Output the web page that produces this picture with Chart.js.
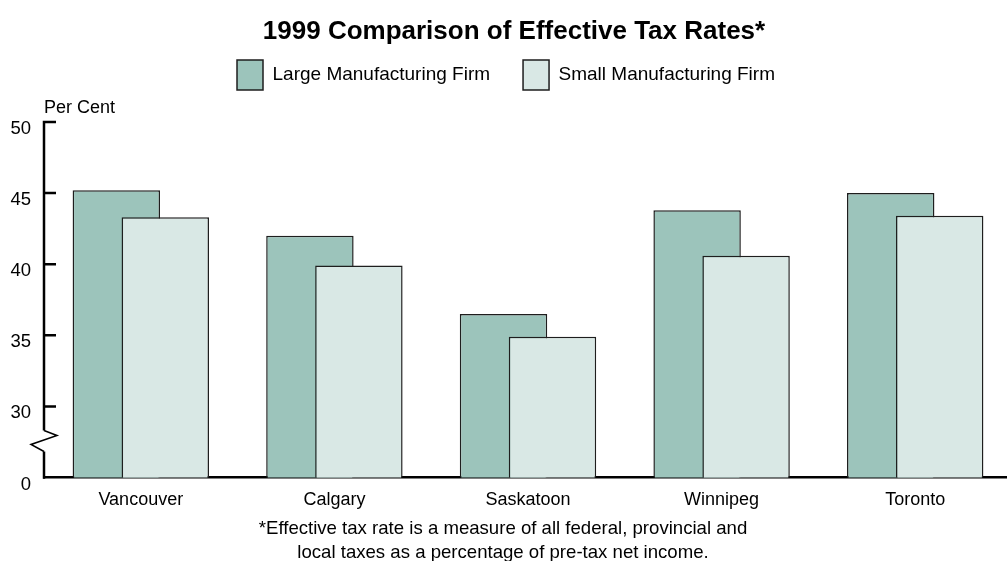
<!DOCTYPE html>
<html>
<head>
<meta charset="utf-8">
<script src="https://cdn.jsdelivr.net/npm/chart.js@4.4.1/dist/chart.umd.min.js"></script>
<style>
  html, body { margin: 0; padding: 0; background: #fff; overflow: hidden; }
  #wrap { width: 1012px; height: 561px; }
</style>
</head>
<body>
<div id="wrap"><canvas id="c" width="1012" height="561"></canvas></div>
<script>
// Effective tax rates by city, per cent
const cities = ['Vancouver', 'Calgary', 'Saskatoon', 'Winnipeg', 'Toronto'];
const largeFirm = [45.2, 42.0, 36.5, 43.8, 45.0];
const smallFirm = [43.3, 39.9, 34.9, 40.6, 43.4];
const seriesNames = ['Large Manufacturing Firm', 'Small Manufacturing Firm'];

// The value axis is broken: its baseline (25 on the scale) is labelled 0
const yTickValues = [25, 30, 35, 40, 45, 50];
const yTickLabels = ['0', '30', '35', '40', '45', '50'];

const footnoteLines = [
  '*Effective tax rate is a measure of all federal, provincial and',
  'local taxes as a percentage of pre-tax net income.'
];

const FONT = "'Liberation Sans', Arial, Helvetica, sans-serif";
Chart.defaults.font.family = FONT;
Chart.defaults.color = '#000';

// Nudge the heading slightly right of the canvas centre
const titleNudge = {
  id: 'titleNudge',
  afterLayout(chart) {
    const t = chart.titleBlock;
    if (t) { t.left += 8; t.right += 8; }
  }
};

// Draw the large-firm bars first so the small-firm bars overlap them
const barLayering = {
  id: 'barLayering',
  beforeDatasetsDraw(chart) {
    const { ctx, chartArea } = chart;
    ctx.save();
    ctx.beginPath();
    ctx.rect(chartArea.left, chartArea.top - 2, chartArea.right - chartArea.left, chartArea.bottom - chartArea.top + 2);
    ctx.clip();
    [0, 1].forEach(i => chart.getDatasetMeta(i).controller.draw());
    ctx.restore();
    return false;
  }
};

// Value axis with inward ticks and a zig-zag break, plus the footnote
const brokenAxis = {
  id: 'brokenAxis',
  afterDraw(chart) {
    const { ctx, chartArea } = chart;
    const y = chart.scales.y;
    const x0 = chartArea.left;
    const tick = 12;
    const yTop = y.getPixelForValue(yTickValues[yTickValues.length - 1]);
    const yBase = y.getPixelForValue(yTickValues[0]);

    ctx.save();
    ctx.strokeStyle = '#000';
    ctx.lineCap = 'butt';
    ctx.lineJoin = 'miter';

    // upper part of the axis, starting at the top tick
    ctx.lineWidth = 2.5;
    ctx.beginPath();
    ctx.moveTo(x0 + tick, yTop);
    ctx.lineTo(x0, yTop);
    ctx.lineTo(x0, yBase - 47);
    ctx.stroke();

    // tick marks
    ctx.beginPath();
    yTickValues.slice(1, -1).forEach(v => {
      const p = y.getPixelForValue(v);
      ctx.moveTo(x0, p);
      ctx.lineTo(x0 + tick, p);
    });
    ctx.stroke();

    // break symbol
    ctx.lineWidth = 1.5;
    ctx.beginPath();
    ctx.moveTo(x0, yBase - 47);
    ctx.lineTo(x0 + 13, yBase - 42);
    ctx.lineTo(x0 - 13, yBase - 33);
    ctx.lineTo(x0, yBase - 26);
    ctx.stroke();

    // lower part down to the baseline
    ctx.lineWidth = 2.5;
    ctx.beginPath();
    ctx.moveTo(x0, yBase - 26);
    ctx.lineTo(x0, yBase + 1.25);
    ctx.stroke();

    // footnote
    ctx.fillStyle = '#000';
    ctx.font = '18.6px ' + FONT;
    ctx.textAlign = 'center';
    ctx.textBaseline = 'middle';
    const cx = chart.width / 2 - 3;
    footnoteLines.forEach((line, i) => ctx.fillText(line, cx, 529 + i * 24));
    ctx.restore();
  }
};

new Chart(document.getElementById('c'), {
  type: 'bar',
  data: {
    labels: cities,
    datasets: [
      {
        label: seriesNames[0],
        data: largeFirm,
        backgroundColor: '#9cc4bb',
        borderColor: '#1e1e1e',
        borderWidth: 1.5
      },
      {
        label: seriesNames[1],
        data: smallFirm,
        backgroundColor: '#d9e8e5',
        borderColor: '#1e1e1e',
        borderWidth: 1.5
      }
    ]
  },
  options: {
    responsive: false,
    animation: false,
    devicePixelRatio: 1,
    categoryPercentage: 0.506,
    barPercentage: 1.785,
    layout: { padding: { top: 0, left: 0, right: 0, bottom: 38.9 } },
    plugins: {
      title: {
        display: true,
        text: '1999 Comparison of Effective Tax Rates*',
        color: '#000',
        font: { size: 26, weight: 'bold' },
        padding: { top: 16, bottom: -20.2 }
      },
      legend: {
        display: true,
        position: 'top',
        labels: {
          boxWidth: 26,
          boxHeight: 30,
          padding: 33,
          color: '#000',
          font: { size: 19 }
        }
      },
      subtitle: {
        display: true,
        text: 'Per Cent',
        position: 'top',
        align: 'start',
        fullSize: false,
        weight: 500,
        color: '#000',
        font: { size: 18, weight: 'normal' },
        padding: { top: -2.8, bottom: 3.2 }
      },
      tooltip: { enabled: false }
    },
    scales: {
      x: {
        grid: { display: false, drawTicks: false },
        border: { display: true, color: '#000', width: 2.5 },
        ticks: { color: '#000', font: { size: 18 }, padding: 11.5 }
      },
      y: {
        min: yTickValues[0],
        max: yTickValues[yTickValues.length - 1],
        grid: { display: false, drawTicks: false },
        border: { display: false },
        afterBuildTicks: scale => {
          scale.ticks = yTickValues.map(v => ({ value: v }));
        },
        afterFit: scale => { scale.width = 44; },
        ticks: {
          color: '#000',
          font: { size: 18.5 },
          padding: 13,
          labelOffset: 7,
          callback: value => yTickLabels[yTickValues.indexOf(value)]
        }
      }
    }
  },
  plugins: [titleNudge, barLayering, brokenAxis]
});
</script>
</body>
</html>
